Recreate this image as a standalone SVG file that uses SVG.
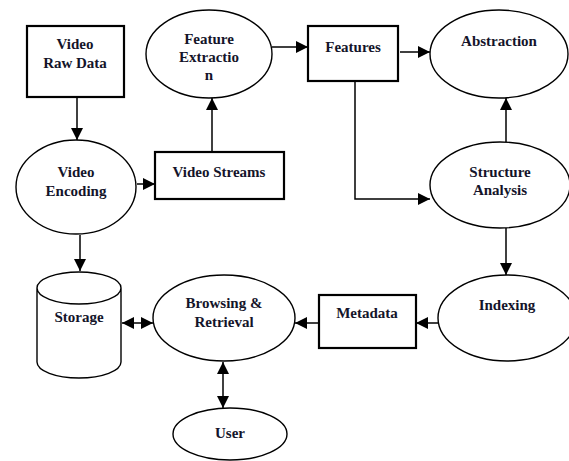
<svg xmlns="http://www.w3.org/2000/svg" width="569" height="461" viewBox="0 0 569 461">
<style>
.box{fill:#fff;stroke:#000;stroke-width:2.2}
.ell{fill:#fff;stroke:#000;stroke-width:1.4}
.t{font-family:"Liberation Serif","Times New Roman",serif;font-weight:bold;font-size:15px;fill:#14142a;text-anchor:middle}
.c{fill:none;stroke:#000;stroke-width:1.5}
</style>
<defs>
<marker id="ah" markerUnits="userSpaceOnUse" markerWidth="12" markerHeight="12" viewBox="0 0 12 12" refX="12" refY="6" orient="auto">
<path d="M0,0 L12,6 L0,12 Z" fill="#000"/>
</marker>
<marker id="as" markerUnits="userSpaceOnUse" markerWidth="12" markerHeight="12" viewBox="0 0 12 12" refX="0" refY="6" orient="auto">
<path d="M12,0 L0,6 L12,12 Z" fill="#000"/>
</marker>
</defs>
<rect width="569" height="461" fill="#fff"/>
<g id="connectors">
<line class="c" x1="77" y1="97" x2="77" y2="140" marker-end="url(#ah)"/>
<line class="c" x1="137" y1="184" x2="155" y2="184" marker-end="url(#ah)"/>
<line class="c" x1="212" y1="152" x2="212" y2="98" marker-end="url(#ah)"/>
<line class="c" x1="272" y1="47" x2="308" y2="47" marker-end="url(#ah)"/>
<line class="c" x1="400" y1="52" x2="430" y2="52" marker-end="url(#ah)"/>
<polyline class="c" points="355,81 355,199 430,199" marker-end="url(#ah)"/>
<line class="c" x1="506" y1="142" x2="506" y2="98" marker-end="url(#ah)"/>
<line class="c" x1="506" y1="228" x2="506" y2="275" marker-end="url(#ah)"/>
<line class="c" x1="438" y1="323" x2="416" y2="323" marker-end="url(#ah)"/>
<line class="c" x1="319" y1="323" x2="295" y2="323" marker-end="url(#ah)"/>
<line class="c" x1="80" y1="235" x2="80" y2="271" marker-end="url(#ah)"/>
<line class="c" x1="122" y1="323" x2="153" y2="323" marker-start="url(#as)" marker-end="url(#ah)"/>
<line class="c" x1="223" y1="362" x2="223" y2="408" marker-start="url(#as)" marker-end="url(#ah)"/>
</g>
<g id="video-raw-data">
<rect class="box" x="27" y="26" width="97" height="71"/>
<text class="t" x="75" y="49">Video</text>
<text class="t" x="75" y="68">Raw Data</text>
</g>
<g id="feature-extraction">
<ellipse class="ell" cx="209" cy="54" rx="63" ry="44"/>
<text class="t" x="209" y="44">Feature</text>
<text class="t" x="209" y="62">Extractio</text>
<text class="t" x="209" y="80">n</text>
</g>
<g id="video-encoding">
<ellipse class="ell" cx="76" cy="187" rx="60" ry="47"/>
<text class="t" x="76" y="177">Video</text>
<text class="t" x="76" y="196">Encoding</text>
</g>
<g id="video-streams">
<rect class="box" x="155" y="152" width="129" height="47"/>
<text class="t" x="219" y="177">Video Streams</text>
</g>
<g id="features">
<rect class="box" x="308" y="26" width="90" height="55"/>
<text class="t" x="353" y="52">Features</text>
</g>
<g id="abstraction">
<ellipse class="ell" cx="499" cy="54" rx="69" ry="44"/>
<text class="t" x="499" y="46">Abstraction</text>
</g>
<g id="structure-analysis">
<ellipse class="ell" cx="500" cy="185" rx="70" ry="43"/>
<text class="t" x="500" y="177">Structure</text>
<text class="t" x="500" y="195">Analysis</text>
</g>
<g id="indexing">
<ellipse class="ell" cx="507" cy="318" rx="69" ry="43"/>
<text class="t" x="507" y="310">Indexing</text>
</g>
<g id="metadata">
<rect class="box" x="319" y="295" width="97" height="53"/>
<text class="t" x="367" y="318">Metadata</text>
</g>
<g id="browsing-retrieval">
<ellipse class="ell" cx="224" cy="318" rx="71" ry="43"/>
<text class="t" x="224" y="308">Browsing &amp;</text>
<text class="t" x="224" y="327">Retrieval</text>
</g>
<g id="storage">
<path class="ell" d="M37,288 L37,362 A42,16 0 0 0 121,362 L121,288 A42,16 0 0 0 37,288 A42,16 0 0 0 121,288"/>
<text class="t" x="79" y="322">Storage</text>
</g>
<g id="user">
<ellipse class="ell" cx="230" cy="434" rx="57" ry="26"/>
<text class="t" x="230" y="438">User</text>
</g>
</svg>
